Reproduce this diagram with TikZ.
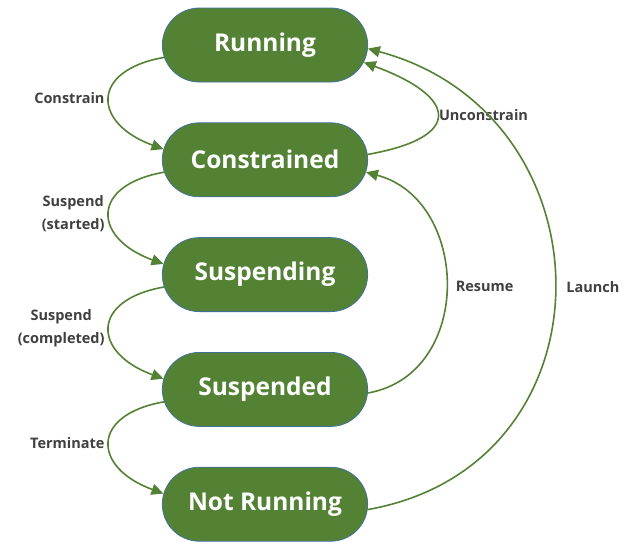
\documentclass[tikz,border=0pt]{standalone}
\usepackage{fontspec}
\setmainfont{Open Sans}
\usetikzlibrary{shapes.misc, arrows.meta, positioning}
\definecolor{stategreen}{HTML}{548235}
\definecolor{stateline}{HTML}{41719C}
\definecolor{labelgray}{HTML}{404040}

\begin{document}
\begin{tikzpicture}[
					x=1pt, y=1pt,
					node distance=40pt,
					state/.style={rounded rectangle, minimum width=212pt, minimum height=74pt, draw=stateline, line width=0.8pt, fill=stategreen, text=white, font=\fontsize{24.5}{28}\selectfont\bfseries},
					trans/.style={-{Triangle[length=12pt, width=11pt]}, draw=stategreen, line width=1.6pt},
					lbl/.style={font=\fontsize{14.5}{23}\selectfont\bfseries, text=labelgray, align=center, inner sep=1pt}
					]
					\useasboundingbox (-265,-507) rectangle (359,45);
					
					\node (running) [state] at (0,0) {Running};
					\node (constrained) [state, below=of running] {Constrained};
					\node (suspending) [state, below=of constrained] {Suspending};
					\node (suspended) [state, below=of suspending] {Suspended};
					\node (notrunning) [state, below=of suspended] {Not Running};
					
					% left side
					\draw [trans] (running.187) to[out=190, in=160, looseness=2.1] node[lbl, left=3pt] {Constrain} (constrained.174);
					\draw [trans] (constrained.187) to[out=190, in=160, looseness=2.1] node[lbl, left=3pt] {Suspend\\(started)} (suspending.174);
					\draw [trans] (suspending.187) to[out=190, in=160, looseness=2.1] node[lbl, left=3pt] {Suspend\\(completed)} (suspended.174);
					\draw [trans] (suspended.187) to[out=190, in=160, looseness=2.1] node[lbl, left=3pt] {Terminate} (notrunning.174);
					
					% right side
					\draw [trans] (constrained.3) to[out=10, in=-20, looseness=2.75] node[lbl, right=0pt] {Unconstrain} (running.350);
					\draw [trans] (suspended.358) to[out=10, in=-15, looseness=1.25] node[lbl, right=8pt] {Resume} (constrained.353);
					\draw [trans] (notrunning.357) to[out=10, in=-15, looseness=1.42] node[lbl, right=10pt] {Launch} (running.358);
				\end{tikzpicture}
\end{document}
